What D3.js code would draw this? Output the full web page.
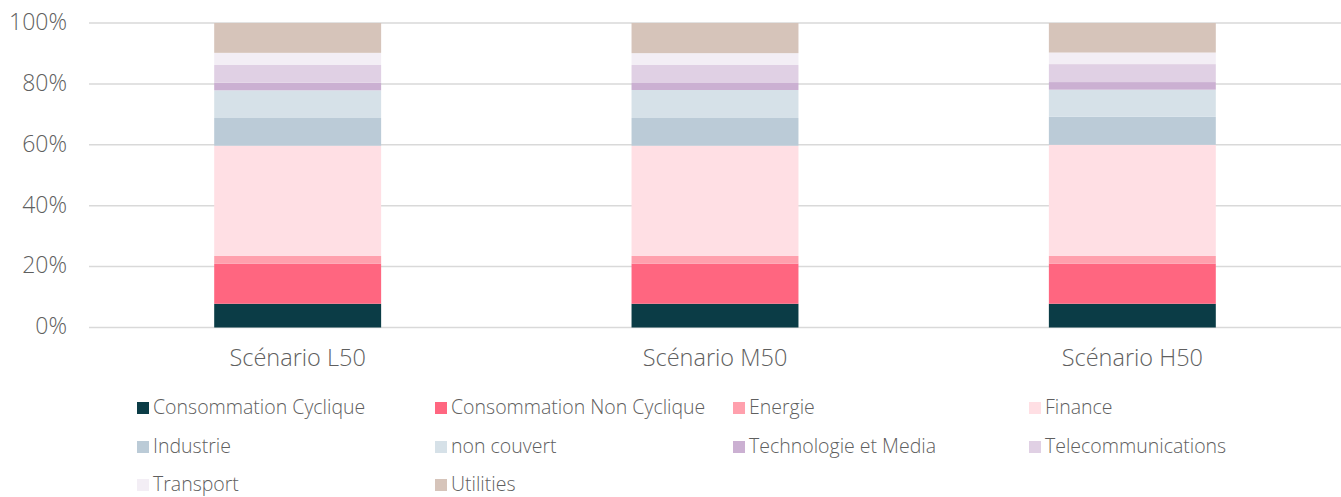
<!DOCTYPE html>
<html>
<head>
<meta charset="utf-8">
<script src="https://cdn.jsdelivr.net/npm/d3@7"></script>
<style>
  html, body { margin: 0; padding: 0; background: #fff; }
  svg { display: block; font-family: "Open Sans", sans-serif; }
</style>
</head>
<body>
<svg id="chart" width="1341" height="497"></svg>
<script>
// Sector breakdown per scenario (share of total, %)
const scenarios = ["Scénario L50", "Scénario M50", "Scénario H50"];
const sectors = [
  "Consommation Cyclique", "Consommation Non Cyclique", "Energie", "Finance",
  "Industrie", "non couvert", "Technologie et Media", "Telecommunications",
  "Transport", "Utilities"
];
const consommationCyclique    = [7.8, 7.8, 7.8];
const consommationNonCyclique = [13.2, 13.2, 13.2];
const energie                 = [2.5, 2.5, 2.5];
const finance                 = [36.2, 36.2, 36.5];
const industrie               = [9.1, 9.1, 9.2];
const nonCouvert              = [9.1, 9.2, 8.9];
const technologieMedia        = [2.5, 2.3, 2.5];
const telecommunications      = [5.8, 5.9, 5.9];
const transport               = [4.0, 3.9, 3.8];
const utilities               = [9.8, 9.9, 9.7];
const yTicks = [0, 20, 40, 60, 80, 100];

const seriesValues = [
  consommationCyclique, consommationNonCyclique, energie, finance, industrie,
  nonCouvert, technologieMedia, telecommunications, transport, utilities
];
const colors = [
  "#0b3c46", "#ff6680", "#ffa0ad", "#ffdfe4", "#bbcbd7",
  "#d6e1e8", "#cbb0d2", "#e0d0e4", "#f3eef5", "#d6c4ba"
];

const rows = scenarios.map((s, i) => {
  const r = { scenario: s };
  sectors.forEach((k, j) => { r[k] = seriesValues[j][i]; });
  return r;
});

const svg = d3.select("#chart");
const margin = { left: 89, right: 0, top: 23, bottom: 170 };
const W = 1341, H = 497;
const textColor = "#5f5f5f";

const x = d3.scaleBand()
  .domain(scenarios)
  .range([margin.left, W - margin.right])
  .paddingInner(0.6)
  .paddingOuter(0.3);

const y = d3.scaleLinear()
  .domain([0, 100])
  .range([327.5, margin.top]);

// Horizontal gridlines
svg.append("g")
  .selectAll("line")
  .data(yTicks)
  .join("line")
  .attr("x1", margin.left)
  .attr("x2", W)
  .attr("y1", d => y(d))
  .attr("y2", d => y(d))
  .attr("stroke", "#d9d9d9")
  .attr("stroke-width", 1.5);

// Y axis labels
const yAxis = d3.axisLeft(y).tickValues(yTicks).tickFormat(d => d + "%").tickSize(0).tickPadding(0);
const gy = svg.append("g").attr("transform", "translate(67,-1)").call(yAxis);
gy.select(".domain").remove();
gy.selectAll("text")
  .attr("fill", textColor)
  .attr("font-size", 23)
  .attr("font-family", "'Open Sans', sans-serif")
  .attr("font-weight", 300);

// Stacked bars
const stack = d3.stack().keys(sectors);
const layers = stack(rows);

svg.append("g")
  .selectAll("g")
  .data(layers)
  .join("g")
  .attr("fill", (d, i) => colors[i])
  .selectAll("rect")
  .data(d => d)
  .join("rect")
  .attr("x", d => x(d.data.scenario))
  .attr("width", x.bandwidth())
  .attr("y", d => y(d[1]))
  .attr("height", d => y(d[0]) - y(d[1]));

// Category labels
const xAxis = d3.axisBottom(x).tickSize(0).tickPadding(0);
const gx = svg.append("g").attr("transform", "translate(0,349)").call(xAxis);
gx.select(".domain").remove();
gx.selectAll("text")
  .attr("fill", textColor)
  .attr("font-size", 23.5)
  .attr("font-family", "'Open Sans', sans-serif")
  .attr("font-weight", 300);

// Legend
const legendCols = [137, 435, 733, 1029];
const legendRows = [408, 447, 485];
const legend = svg.append("g")
  .selectAll("g")
  .data(sectors)
  .join("g")
  .attr("transform", (d, i) => `translate(${legendCols[i % 4]},${legendRows[Math.floor(i / 4)]})`);

legend.append("rect")
  .attr("x", 0)
  .attr("y", -6)
  .attr("width", 12)
  .attr("height", 12)
  .attr("fill", (d, i) => colors[i]);

legend.append("text")
  .attr("x", 16)
  .attr("y", 0)
  .attr("dy", "0.32em")
  .attr("fill", textColor)
  .attr("font-size", 19.5)
  .attr("font-weight", 300)
  .text(d => d);
</script>
</body>
</html>
